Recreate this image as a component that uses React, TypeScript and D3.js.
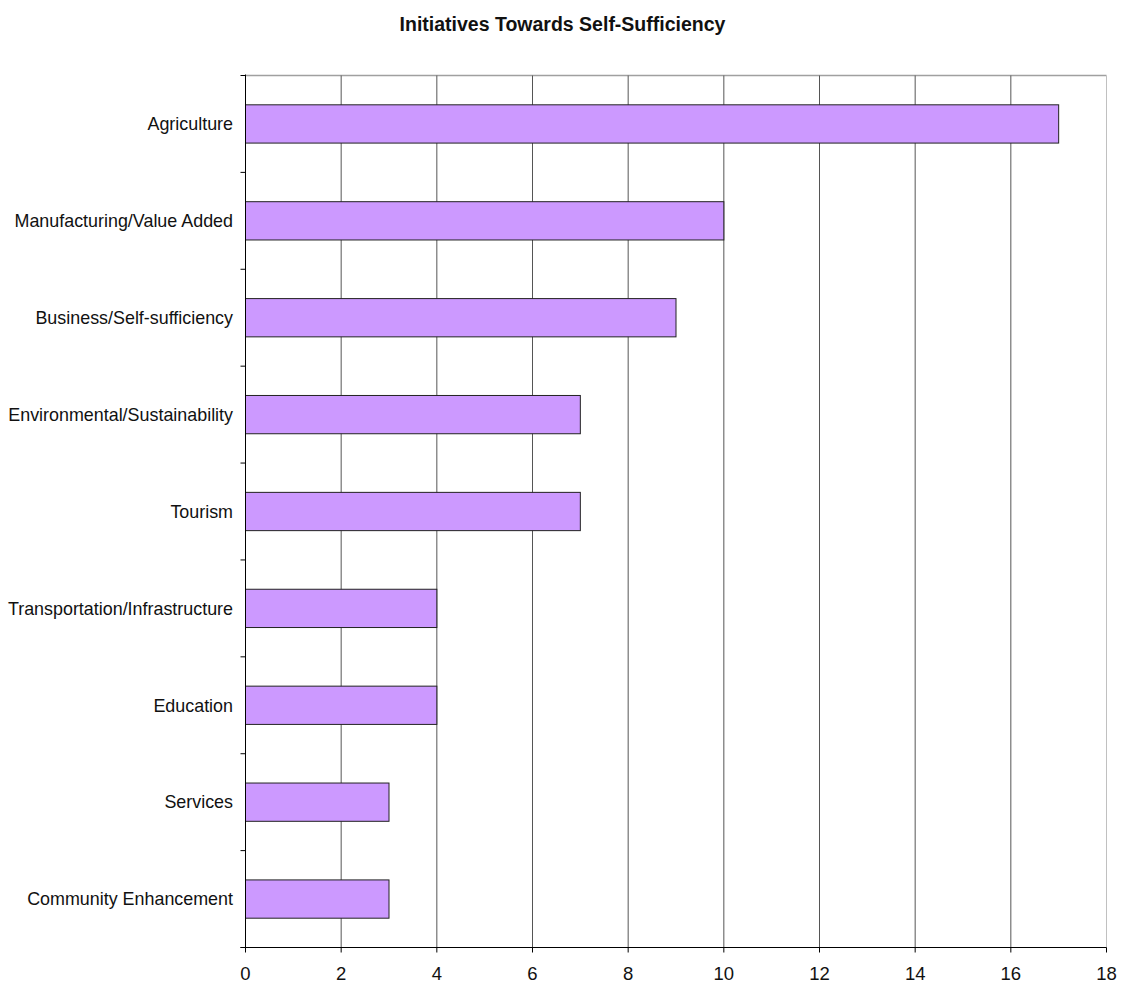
import React from "react";
import * as d3 from "d3";

const categories = [
  "Agriculture",
  "Manufacturing/Value Added",
  "Business/Self-sufficiency",
  "Environmental/Sustainability",
  "Tourism",
  "Transportation/Infrastructure",
  "Education",
  "Services",
  "Community Enhancement",
];
const values = [17, 10, 9, 7, 7, 4, 4, 3, 3];
const xTicks = [0, 2, 4, 6, 8, 10, 12, 14, 16, 18];
const title = "Initiatives Towards Self-Sufficiency";

export default function App() {
  const W = 1124, H = 986;
  const left = 245.5, right = 1106.5, top = 75.5, bottom = 947.5;
  const x = d3.scaleLinear().domain([0, 18]).range([left, right]);
  const y = d3.scaleBand().domain(categories).range([top, bottom]);
  const bw = y.bandwidth();
  const barH = bw * 0.395;
  const font = "Arial, 'Liberation Sans', sans-serif";
  const boundaries = d3.range(categories.length + 1).map((i) => top + i * bw);
  return (
    <svg width={W} height={H} style={{ position: "absolute", left: 0, top: 0 }} fontFamily={font}>
      <rect x={0} y={0} width={W} height={H} fill="#fff" />
      <text x={562.5} y={30.5} textAnchor="middle" fontWeight="bold" fontSize={19.5} fill="#111">{title}</text>
      {/* plot border */}
      <line x1={left} x2={right} y1={top} y2={top} stroke="#a0a0a0" strokeWidth={1.5} />
      <line x1={right} x2={right} y1={top} y2={bottom} stroke="#c0c0c0" strokeWidth={1} />
      {/* grid */}
      {xTicks.slice(1, -1).map((t) => (
        <line key={t} x1={x(t)} x2={x(t)} y1={top} y2={bottom} stroke="#555" strokeWidth={1} />
      ))}
      {/* bars */}
      {categories.map((c, i) => (
        <rect key={c} x={x(0)} y={y(c)! + bw / 2 - barH / 2} width={x(values[i]) - x(0)} height={barH}
          fill="#CC99FF" stroke="#222" strokeWidth={1} />
      ))}
      {/* axes */}
      <line x1={left} x2={left} y1={top - 1} y2={bottom} stroke="#000" strokeWidth={1} />
      <line x1={left - 5} x2={right} y1={bottom} y2={bottom} stroke="#000" strokeWidth={1} />
      {boundaries.map((b, i) => (
        <line key={i} x1={left - 5} x2={left} y1={b} y2={b} stroke="#000" strokeWidth={1} />
      ))}
      {xTicks.map((t) => (
        <g key={t}>
          <line x1={x(t)} x2={x(t)} y1={bottom} y2={bottom + 5} stroke="#000" strokeWidth={1} />
          <text x={x(t)} y={980} textAnchor="middle" fontSize={18.5} fill="#111">{t}</text>
        </g>
      ))}
      {categories.map((c) => (
        <text key={c} x={233} y={y(c)! + bw / 2} dy="0.35em" textAnchor="end" fontSize={17.9} fill="#111">{c}</text>
      ))}
    </svg>
  );
}
